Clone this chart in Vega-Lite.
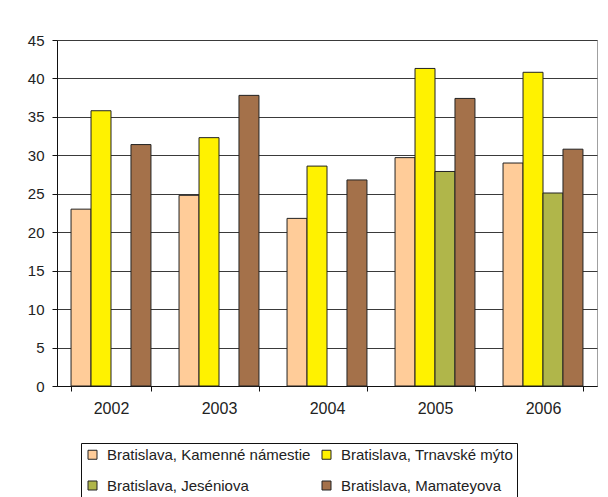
{
  "$schema": "https://vega.github.io/schema/vega-lite/v6.json",
  "width": 540,
  "height": 346,
  "autosize": {"type": "none"},
  "padding": {"left": 57, "top": 40, "right": 11, "bottom": 111},
  "background": "white",
  "config": {
    "font": "Liberation Sans",
    "view": {"stroke": "#a0a0a0", "strokeWidth": 1},
    "axis": {"labelColor": "#222", "domainColor": "#111", "tickColor": "#111"}
  },
  "data": {
    "values": [
      {"year": "2002", "station": "Bratislava, Kamenné námestie", "value": 23.0},
      {"year": "2002", "station": "Bratislava, Trnavské mýto", "value": 35.8},
      {"year": "2002", "station": "Bratislava, Mamateyova", "value": 31.4},
      {"year": "2003", "station": "Bratislava, Kamenné námestie", "value": 24.8},
      {"year": "2003", "station": "Bratislava, Trnavské mýto", "value": 32.3},
      {"year": "2003", "station": "Bratislava, Mamateyova", "value": 37.8},
      {"year": "2004", "station": "Bratislava, Kamenné námestie", "value": 21.8},
      {"year": "2004", "station": "Bratislava, Trnavské mýto", "value": 28.6},
      {"year": "2004", "station": "Bratislava, Mamateyova", "value": 26.8},
      {"year": "2005", "station": "Bratislava, Kamenné námestie", "value": 29.7},
      {"year": "2005", "station": "Bratislava, Trnavské mýto", "value": 41.3},
      {"year": "2005", "station": "Bratislava, Jeséniova", "value": 27.9},
      {"year": "2005", "station": "Bratislava, Mamateyova", "value": 37.4},
      {"year": "2006", "station": "Bratislava, Kamenné námestie", "value": 29.0},
      {"year": "2006", "station": "Bratislava, Trnavské mýto", "value": 40.8},
      {"year": "2006", "station": "Bratislava, Jeséniova", "value": 25.1},
      {"year": "2006", "station": "Bratislava, Mamateyova", "value": 30.8}
    ]
  },
  "mark": {"type": "bar", "stroke": "#222", "strokeWidth": 1},
  "encoding": {
    "x": {
      "field": "year",
      "type": "nominal",
      "title": null,
      "scale": {"paddingInner": 0.26, "paddingOuter": 0.13},
      "axis": {"labelAngle": 0, "tickBand": "extent", "tickSize": 5, "labelPadding": 9, "labelFontSize": 16, "grid": false}
    },
    "xOffset": {
      "field": "station",
      "type": "nominal",
      "sort": ["Bratislava, Kamenné námestie", "Bratislava, Trnavské mýto", "Bratislava, Jeséniova", "Bratislava, Mamateyova"],
      "scale": {"paddingInner": 0, "paddingOuter": 0}
    },
    "y": {
      "field": "value",
      "type": "quantitative",
      "title": null,
      "scale": {"domain": [0, 45]},
      "axis": {"values": [0, 5, 10, 15, 20, 25, 30, 35, 40, 45], "tickSize": 5, "labelPadding": 8, "labelFontSize": 15, "grid": true, "gridColor": "#3a3a3a", "gridOpacity": 1}
    },
    "color": {
      "field": "station",
      "type": "nominal",
      "sort": ["Bratislava, Kamenné námestie", "Bratislava, Trnavské mýto", "Bratislava, Jeséniova", "Bratislava, Mamateyova"],
      "scale": {"range": ["#ffcc99", "#fff200", "#b0b64a", "#a4714a"]},
      "legend": {
        "title": null,
        "orient": "none",
        "direction": "horizontal",
        "legendX": 24,
        "legendY": 403,
        "columns": 2,
        "columnPadding": 8,
        "rowPadding": 15,
        "padding": 4,
        "gridAlign": "all",
        "strokeColor": "#111",
        "symbolType": "square",
        "symbolSize": 81,
        "symbolStrokeColor": "#222",
        "symbolStrokeWidth": 1,
        "symbolOpacity": 1,
        "labelOffset": 7,
        "labelFontSize": 15,
        "labelColor": "#222",
        "labelLimit": 400
      }
    }
  }
}
